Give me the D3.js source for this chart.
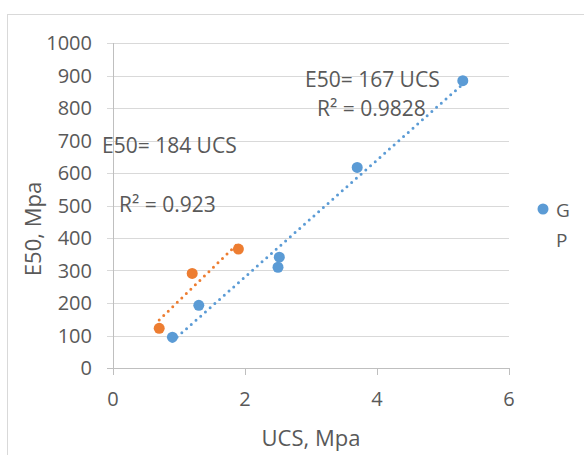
<!DOCTYPE html>
<html lang="en">
<head>
    <title>E50 vs UCS</title>
    <script src="https://d3js.org/d3.v7.min.js"></script>
    <style>
        body {
            margin: 0;
            background: #fff;
        }
        * {
            font-family: "Open Sans", sans-serif;
        }
        text {
            fill: #595959;
        }
        .grid line {
            stroke: #d9d9d9;
            stroke-width: 1;
        }
        .axis-line {
            stroke: #bfbfbf;
            stroke-width: 1;
        }
        .tick-label {
            font-size: 20px;
        }
        .title {
            font-size: 22px;
        }
        .note {
            font-size: 21px;
        }
        .legend {
            font-size: 19px;
        }
    </style>
</head>
<body>
<svg class="chart"></svg>

<script>
    // series G (blue) and P (orange): UCS in Mpa, E50 in Mpa
    const gUcs = [0.9, 1.3, 2.5, 2.52, 3.7, 5.3];
    const gE50 = [95, 193, 310, 341, 617, 884];
    const pUcs = [0.7, 1.2, 1.9];
    const pE50 = [122, 291, 366];

    const xTicks = [0, 2, 4, 6];
    const yTicks = [0, 100, 200, 300, 400, 500, 600, 700, 800, 900, 1000];

    const seriesNames = ["G", "P"];
    const notes = ["E50= 167 UCS", "R² = 0.9828", "E50= 184 UCS", "R² = 0.923"];

    const colors = {G: "#5b9bd5", P: "#ed7d31"};

    const width = 584, height = 455;
    const svg = d3.select("svg.chart")
        .attr("width", width)
        .attr("height", height);

    // chart frame (runs off the right and bottom)
    svg.append("rect")
        .attr("x", 7.5).attr("y", 14.5)
        .attr("width", 700).attr("height", 600)
        .attr("fill", "none")
        .attr("stroke", "#d9d9d9");

    const x = d3.scaleLinear().domain([0, 6]).range([113, 509]);
    const y = d3.scaleLinear().domain([0, 1000]).range([368, 43]);

    // horizontal gridlines, with a short tick left of the axis
    svg.append("g").attr("class", "grid")
        .selectAll("line")
        .data(yTicks)
        .enter().append("line")
        .attr("x1", x(0) - 6)
        .attr("x2", x(6))
        .attr("y1", d => Math.round(y(d)) + 0.5)
        .attr("y2", d => Math.round(y(d)) + 0.5);

    // axis lines
    svg.append("line").attr("class", "axis-line")
        .attr("x1", Math.round(x(0)) + 0.5).attr("x2", Math.round(x(0)) + 0.5)
        .attr("y1", y(1000)).attr("y2", y(0));
    svg.append("line").attr("class", "axis-line")
        .attr("x1", x(0) - 6).attr("x2", x(6))
        .attr("y1", Math.round(y(0)) + 0.5).attr("y2", Math.round(y(0)) + 0.5);

    // x ticks below the axis
    svg.append("g")
        .selectAll("line")
        .data(xTicks)
        .enter().append("line").attr("class", "axis-line")
        .attr("x1", d => Math.round(x(d)) + 0.5)
        .attr("x2", d => Math.round(x(d)) + 0.5)
        .attr("y1", y(0))
        .attr("y2", y(0) + 7);

    // tick labels
    svg.append("g")
        .selectAll("text")
        .data(yTicks)
        .enter().append("text").attr("class", "tick-label")
        .attr("x", 92)
        .attr("y", d => y(d) + 7)
        .attr("text-anchor", "end")
        .text(d => d);

    svg.append("g")
        .selectAll("text")
        .data(xTicks)
        .enter().append("text").attr("class", "tick-label")
        .attr("x", d => x(d))
        .attr("y", 406)
        .attr("text-anchor", "middle")
        .text(d => d);

    // axis titles
    svg.append("text").attr("class", "title")
        .attr("x", (x(0) + x(6)) / 2)
        .attr("y", 446)
        .attr("text-anchor", "middle")
        .text("UCS, Mpa");

    svg.append("text").attr("class", "title")
        .attr("transform", "translate(41,229) rotate(-90)")
        .attr("text-anchor", "middle")
        .text("E50, Mpa");

    // least squares trendline over the data range
    function trend(xs, ys) {
        const mx = d3.mean(xs), my = d3.mean(ys);
        const sxy = d3.sum(xs, (v, i) => (v - mx) * (ys[i] - my));
        const sxx = d3.sum(xs, v => (v - mx) * (v - mx));
        const slope = sxy / sxx;
        const icpt = my - slope * mx;
        const [x0, x1] = d3.extent(xs);
        return [[x0, icpt + slope * x0], [x1, icpt + slope * x1]];
    }

    const series = [
        {name: seriesNames[0], xs: gUcs, ys: gE50},
        {name: seriesNames[1], xs: pUcs, ys: pE50}
    ];

    const line = d3.line().x(d => x(d[0])).y(d => y(d[1]));

    series.forEach(s => {
        svg.append("g")
            .selectAll("circle")
            .data(s.xs.map((v, i) => [v, s.ys[i]]))
            .enter().append("circle")
            .attr("cx", d => x(d[0]))
            .attr("cy", d => y(d[1]))
            .attr("r", 5.5)
            .attr("fill", colors[s.name]);
    });

    series.forEach(s => {
        svg.append("path")
            .attr("d", line(trend(s.xs, s.ys)))
            .attr("fill", "none")
            .attr("stroke", colors[s.name])
            .attr("stroke-width", 3)
            .attr("stroke-linecap", "round")
            .attr("stroke-dasharray", "0 6.3");
    });

    // trendline equations
    const notePos = [[305, 87], [317, 116], [102, 153], [119, 212]];
    svg.append("g")
        .selectAll("text")
        .data(notes)
        .enter().append("text").attr("class", "note")
        .attr("x", (d, i) => notePos[i][0])
        .attr("y", (d, i) => notePos[i][1])
        .text(d => d);

    // legend (only G shows a marker)
    svg.append("circle")
        .attr("cx", 543).attr("cy", 209).attr("r", 5.5)
        .attr("fill", colors.G);
    svg.append("g")
        .selectAll("text")
        .data(seriesNames)
        .enter().append("text").attr("class", "legend")
        .attr("x", 556)
        .attr("y", (d, i) => 217 + i * 30)
        .text(d => d);
</script>
</body>
</html>
